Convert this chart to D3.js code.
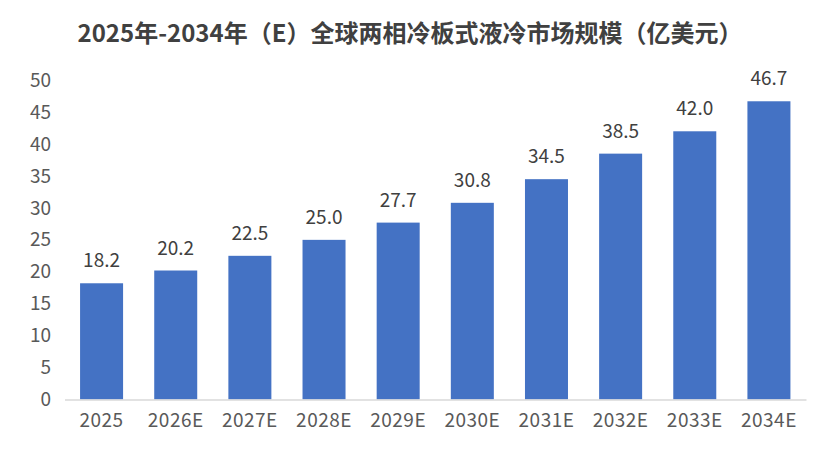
<!DOCTYPE html>
<html>
<head>
<meta charset="utf-8">
<script src="https://cdn.jsdelivr.net/npm/d3@7"></script>
<style>
  body { margin: 0; background: #fff; }
  text { font-family: "Noto Sans CJK SC", "Noto Sans", sans-serif; }
</style>
</head>
<body>
<svg id="chart" width="831" height="450"></svg>
<script>
var title = "2025年-2034年（E）全球两相冷板式液冷市场规模（亿美元）";
var years = ["2025", "2026E", "2027E", "2028E", "2029E", "2030E", "2031E", "2032E", "2033E", "2034E"];
var values = [18.2, 20.2, 22.5, 25.0, 27.7, 30.8, 34.5, 38.5, 42.0, 46.7];
var yTicks = [0, 5, 10, 15, 20, 25, 30, 35, 40, 45, 50];

var svg = d3.select("#chart");

var x = d3.scaleBand()
  .domain(years)
  .range([64.5, 806])
  .paddingInner(0.42)
  .paddingOuter(0.21);

var y = d3.scaleLinear()
  .domain([0, 50])
  .range([399.5, 80.2]);

// 标题
svg.append("text")
  .attr("x", 410)
  .attr("y", 42)
  .attr("text-anchor", "middle")
  .attr("font-size", "24px")
  .attr("font-weight", "bold")
  .attr("fill", "#404040")
  .text(title);

// y轴（只有刻度文字）
var yAxis = svg.append("g")
  .attr("transform", "translate(64,0)")
  .call(d3.axisLeft(y).tickValues(yTicks).tickSize(0).tickPadding(13));
yAxis.select(".domain").remove();
yAxis.selectAll("text")
  .attr("font-size", "19px")
  .attr("fill", "#595959")
  .style("font-family", "'Noto Sans CJK SC', 'Noto Sans', sans-serif");

// 柱子
svg.selectAll("rect.bar")
  .data(values)
  .enter()
  .append("rect")
  .attr("class", "bar")
  .attr("x", function(d, i) { return x(years[i]); })
  .attr("y", function(d) { return y(d); })
  .attr("width", x.bandwidth())
  .attr("height", function(d) { return y(0) - y(d); })
  .attr("fill", "#4472C4");

// 数据标签
svg.selectAll("text.val")
  .data(values)
  .enter()
  .append("text")
  .attr("class", "val")
  .attr("x", function(d, i) { return x(years[i]) + x.bandwidth() / 2; })
  .attr("y", function(d) { return y(d) - 16; })
  .attr("text-anchor", "middle")
  .attr("font-size", "19px")
  .attr("fill", "#404040")
  .text(function(d) { return d.toFixed(1); });

// x轴
var xAxis = svg.append("g")
  .attr("transform", "translate(0," + y(0) + ")")
  .call(d3.axisBottom(x).tickSize(0).tickPadding(14));
xAxis.select(".domain")
  .attr("stroke", "#d9d9d9")
  .attr("stroke-width", 1.5);
xAxis.selectAll("text")
  .attr("font-size", "19px")
  .attr("letter-spacing", "0.5px")
  .attr("fill", "#595959")
  .style("font-family", "'Noto Sans CJK SC', 'Noto Sans', sans-serif");
</script>
</body>
</html>
